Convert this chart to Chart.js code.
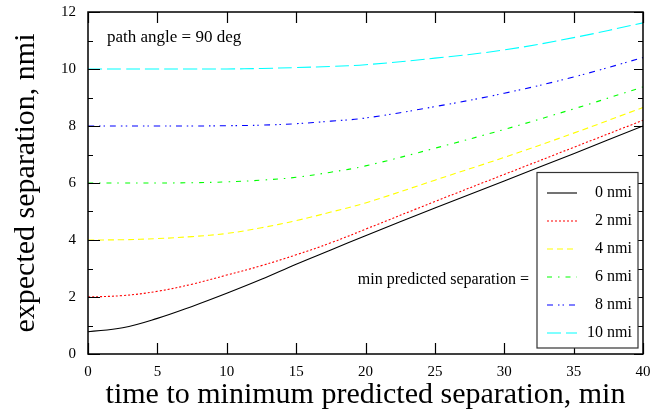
<!DOCTYPE html>
<html>
<head>
<meta charset="utf-8">
<script src="https://cdn.jsdelivr.net/npm/chart.js@4.4.0/dist/chart.umd.min.js"></script>
<style>
  html, body { margin: 0; padding: 0; background: #fff; }
  #wrap { width: 650px; height: 415px; }
</style>
</head>
<body>
<div id="wrap"><canvas id="myChart" width="650" height="415"></canvas></div>
<script>
// tiempo hasta la separacion minima (min)
const tiempos = [0, 2.5, 5, 7.5, 10, 12.5, 15, 17.5, 20, 25, 30, 35, 40];

// separacion esperada (nmi)
const sep0 = [0.78, 0.92, 1.25, 1.67, 2.13, 2.62, 3.15, 3.65, 4.15, 5.12, 6.07, 7.03, 8.0];
const sep2 = [2.0, 2.05, 2.2, 2.45, 2.77, 3.1, 3.48, 3.9, 4.38, 5.35, 6.3, 7.25, 8.2];
const sep4 = [4.0, 4.01, 4.05, 4.12, 4.23, 4.43, 4.68, 4.98, 5.3, 6.1, 6.9, 7.75, 8.65];
const sep6 = [6.0, 6.0, 6.0, 6.01, 6.04, 6.1, 6.2, 6.38, 6.6, 7.22, 7.88, 8.6, 9.37];
const sep8 = [8.0, 8.0, 8.0, 8.0, 8.01, 8.03, 8.08, 8.17, 8.28, 8.68, 9.15, 9.72, 10.4];
const sep10 = [10.0, 10.0, 10.0, 10.0, 10.0, 10.02, 10.05, 10.09, 10.15, 10.38, 10.67, 11.1, 11.62];

const etiquetas = ["0 nmi", "2 nmi", "4 nmi", "6 nmi", "8 nmi", "10 nmi"];
const colores = ["#000000", "#ff0000", "#ffff00", "#00ff00", "#0000ff", "#00ffff"];
const guiones = [[], [2, 2], [6, 4], [5, 6, 1.5, 6], [6, 5, 1.5, 3, 1.5, 5], [14, 5]];

const yTicks = [0, 2, 4, 6, 8, 10, 12];
const xTicks = [0, 5, 10, 15, 20, 25, 30, 35, 40];

const serif = "'Liberation Serif', 'Times New Roman', serif";

const series = [sep0, sep2, sep4, sep6, sep8, sep10];
const datasets = series.map((s, i) => ({
  label: etiquetas[i],
  data: s.map((v, j) => ({ x: tiempos[j], y: v })),
  borderColor: colores[i],
  borderWidth: 1.1,
  borderDash: guiones[i],
  pointRadius: 0,
  fill: false,
  tension: 0.4,
}));

// marco, marcas hacia adentro, leyenda y textos
const extras = {
  id: "extras",
  afterDatasetsDraw(chart) {
    const ctx = chart.ctx;
    const a = chart.chartArea;
    const xs = chart.scales.x;
    const ys = chart.scales.y;
    ctx.save();
    ctx.strokeStyle = "#000";
    ctx.lineWidth = 1.5;
    ctx.strokeRect(a.left, a.top, a.right - a.left, a.bottom - a.top);

    ctx.lineWidth = 1.2;
    ctx.beginPath();
    xTicks.forEach((t) => {
      const px = Math.round(xs.getPixelForValue(t)) + 0.5;
      ctx.moveTo(px, a.bottom);
      ctx.lineTo(px, a.bottom - 11);
      ctx.moveTo(px, a.top);
      ctx.lineTo(px, a.top + 11);
    });
    for (let v = 0; v <= 12; v++) {
      const py = Math.round(ys.getPixelForValue(v)) + 0.5;
      const mayor = v % 2 === 0;
      ctx.moveTo(a.left, py);
      ctx.lineTo(a.left + (mayor ? 12 : 5), py);
      ctx.moveTo(a.right, py);
      ctx.lineTo(a.right - (mayor ? 9 : 5), py);
    }
    ctx.stroke();

    ctx.fillStyle = "#000";
    ctx.font = "17px " + serif;
    ctx.textBaseline = "alphabetic";
    ctx.textAlign = "left";
    ctx.fillText("path angle = 90 deg", a.left + 19, a.top + 30);

    // leyenda
    const bx = a.right - 106;
    const by = a.top + 160.5;
    const bw = 101;
    const bh = 175.5;
    ctx.fillStyle = "#fff";
    ctx.fillRect(bx, by, bw, bh);
    ctx.strokeStyle = "#333";
    ctx.lineWidth = 1.2;
    ctx.strokeRect(bx, by, bw, bh);

    ctx.font = "16px " + serif;
    ctx.textBaseline = "middle";
    chart.data.datasets.forEach((d, i) => {
      const ly = by + 20.5 + i * 28;
      ctx.strokeStyle = d.borderColor;
      ctx.lineWidth = 1.1;
      ctx.setLineDash(d.borderDash);
      ctx.beginPath();
      ctx.moveTo(bx + 10, ly);
      ctx.lineTo(bx + 40, ly);
      ctx.stroke();
      ctx.setLineDash([]);
      ctx.fillStyle = "#000";
      ctx.textAlign = "right";
      ctx.fillText(d.label, bx + 95, ly);
    });
    ctx.textAlign = "right";
    ctx.fillText("min predicted separation =", bx - 8, by + 20.5 + 3 * 28 + 2.5);
    ctx.restore();
  },
};

const grafica = document.getElementById("myChart");
const myChart = new Chart(grafica, {
  type: "line",
  data: { datasets: datasets },
  plugins: [extras],
  options: {
    responsive: false,
    animation: false,
    layout: { padding: { top: 12, right: 7, left: 0, bottom: 0 } },
    plugins: { legend: { display: false }, tooltip: { enabled: false } },
    scales: {
      x: {
        type: "linear",
        min: 0,
        max: 40,
        afterBuildTicks: (s) => { s.ticks = xTicks.map((v) => ({ value: v })); },
        afterFit: (s) => { s.height = 61; s.paddingLeft = 0; s.paddingRight = 0; },
        grid: { display: false, drawTicks: false },
        border: { display: false },
        ticks: { color: "#000", padding: 9, maxRotation: 0, font: { family: serif, size: 15 } },
        title: {
          display: true,
          text: "time to minimum predicted separation, min",
          color: "#000",
          font: { family: serif, size: 30 },
          padding: { top: 0, bottom: 2 },
        },
      },
      y: {
        min: 0,
        max: 12,
        afterBuildTicks: (s) => { s.ticks = yTicks.map((v) => ({ value: v })); },
        afterFit: (s) => { s.width = 88; s.paddingTop = 0; s.paddingBottom = 0; },
        grid: { display: false, drawTicks: false },
        border: { display: false },
        ticks: { color: "#000", padding: 12, font: { family: serif, size: 15 } },
        title: {
          display: true,
          text: "expected separation, nmi",
          color: "#000",
          font: { family: serif, size: 30 },
          padding: { top: 8, bottom: 0 },
        },
      },
    },
  },
});
</script>
</body>
</html>
